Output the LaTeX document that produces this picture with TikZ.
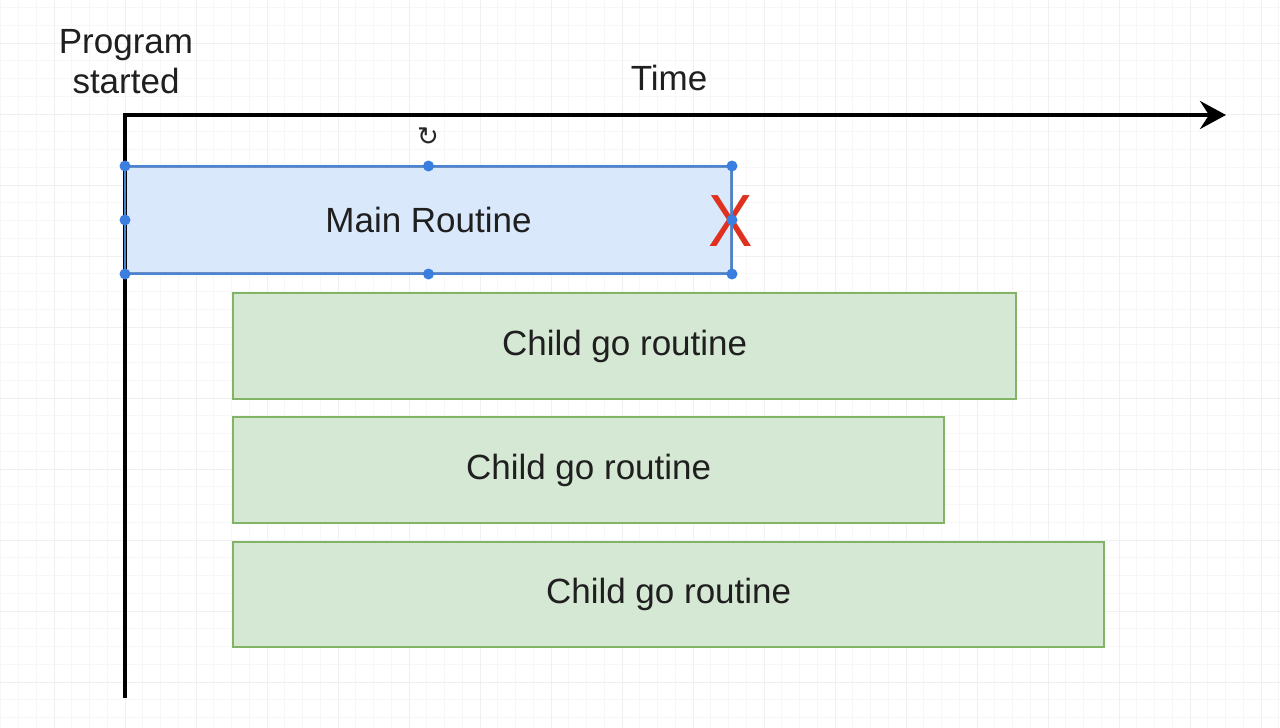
\documentclass[tikz,border=0pt]{standalone}
\usepackage{fontspec}
\setmainfont{Liberation Sans}
\newfontfamily\iconfont{DejaVu Sans}
\usetikzlibrary{arrows.meta}
\definecolor{bluefill}{HTML}{DAE8FC}
\definecolor{bluedraw}{HTML}{6C8EBF}
\definecolor{greenfill}{HTML}{D5E8D4}
\definecolor{greendraw}{HTML}{82B366}
\definecolor{handle}{HTML}{3A7FE0}
\definecolor{xred}{HTML}{E0301E}
\begin{document}
\begin{tikzpicture}[x=1pt,y=-1pt,
  lbl/.style={font=\fontsize{35}{40}\selectfont, text=black!88},
  mainbox/.style={draw=bluedraw, fill=bluefill, line width=2pt, anchor=north west, inner sep=0pt, font=\fontsize{35}{40}\selectfont, text=black!88},
  childbox/.style={draw=greendraw, fill=greenfill, line width=2.2pt, anchor=north west, inner sep=0pt, font=\fontsize{35}{40}\selectfont, text=black!88},
  hdl/.style={circle, fill=handle, inner sep=0pt, minimum size=11pt},
  minorgrid/.style={black!3, line width=0.8pt},
  majorgrid/.style={black!6, line width=1pt},
  axis/.style={line width=4pt, line join=miter},
]
\useasboundingbox (0,0) rectangle (1280,728);
\fill[white] (0,0) rectangle (1280,728);
% grid
\foreach \k in {-8,...,65} \draw[minorgrid] ({125+17.75*\k},0) -- ({125+17.75*\k},728);
\foreach \k in {-7,...,35} \draw[minorgrid] (0,{114+17.75*\k}) -- (1280,{114+17.75*\k});
\foreach \k in {-2,...,16} \draw[majorgrid] ({125+71*\k},0) -- ({125+71*\k},728);
\foreach \k in {-1,...,9} \draw[majorgrid] (0,{114+71*\k}) -- (1280,{114+71*\k});

% labels
\node[lbl, align=center] (prog) at (126,62) {Program\\started};
\node[lbl] (time) at (669,78) {Time};

% boxes
\node[mainbox, minimum width=605pt, minimum height=106pt] (main) at (125,166) {Main Routine};
\node[childbox, minimum width=783pt, minimum height=106pt] (c1) at (232,292) {Child go routine};
\node[childbox, minimum width=711pt, minimum height=106pt] (c2) at (232,416) {Child go routine};
\node[childbox, minimum width=871pt, minimum height=105pt] (c3) at (232,541) {Child go routine};

% red X
\node[text=xred, font=\fontsize{74}{74}\selectfont, inner sep=0pt, xscale=0.9] (x) at (731,221) {X};

% axes
\coordinate (o) at (125,115);
\coordinate (ybot) at (125,698);
\coordinate (xend) at (1226,115);
\draw[axis, -{Stealth[length=26pt,width=28pt,inset=9pt]}] (ybot) -- (o) -- (xend);

% selection outline and handles
\draw[handle!70!bluedraw, line width=1.5pt] (main.north west) rectangle (main.south east);
\foreach \a [count=\i] in {north west,north,north east,west,east,south west,south,south east}
  \node[hdl] (h\i) at (main.\a) {};

% rotation icon
\node[inner sep=0pt, text=black!85, font=\iconfont\fontsize{26}{26}\selectfont] (rot) at (428,137) {↻};
\end{tikzpicture}
\end{document}
